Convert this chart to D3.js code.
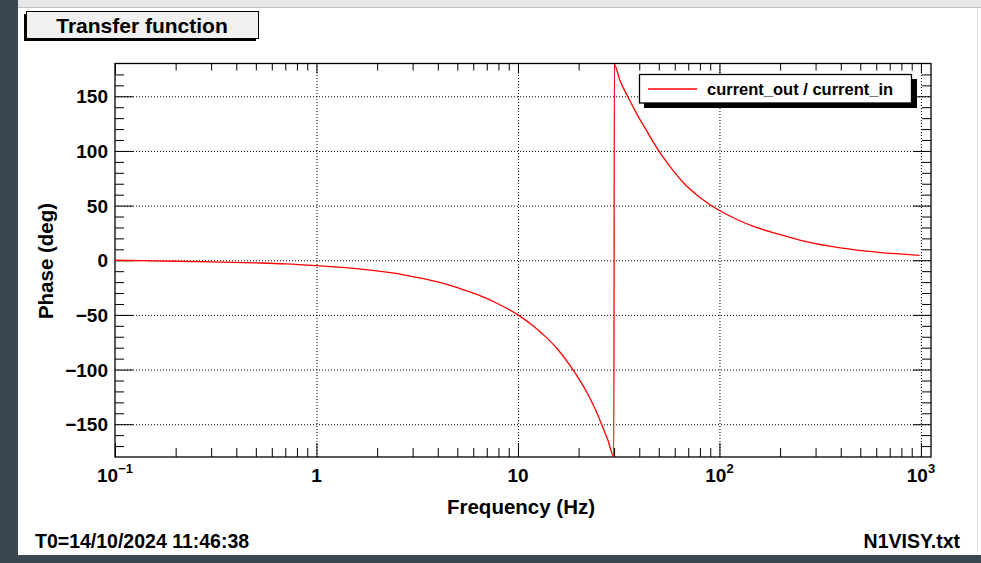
<!DOCTYPE html>
<html>
<head>
<meta charset="utf-8">
<script src="https://cdn.jsdelivr.net/npm/d3@7"></script>
<style>
    body { margin: 0; background: #ffffff; }
    svg { display: block; font-family: "Liberation Sans", Arial, Helvetica, sans-serif; font-weight: bold; }
    .grid line { stroke: #000; stroke-dasharray: 1, 2; }
    .axis path { display: none; }
    .axis line { stroke: #000; }
</style>
</head>
<body>
<script>

// Phase curve (frequency in Hz, phase in degrees)
var frequency = [0.1, 0.2, 0.3, 0.5, 0.7, 1.0, 1.4, 2.0, 2.6, 3.2, 4.0, 5.0, 6.3, 8.0, 10,
                 12, 14, 16, 18, 20, 22, 24, 26, 28, 29.9,
                 30.1, 32, 35, 39, 44, 50, 57, 67, 80, 100, 120, 150, 200, 250, 365, 535, 750, 985];
var phase = [0, -0.9, -1.4, -2.4, -3.3, -4.9, -6.8, -9.8, -12.6, -15.8, -19.8, -25, -31.5, -40, -50,
             -60.5, -71.5, -83, -95.5, -108, -121, -135, -150, -165, -179.5,
             179, 165, 150, 133.5, 117, 100, 85.5, 70, 57.5, 45.5, 38, 30.5, 23.5, 18.5, 12.5, 8.4, 6, 4.5];

// Axis ticks and labels
var xMajorTicks = [0.1, 1, 10, 100, 1000];
var xTickBase = ["10", "1", "10", "10", "10"];
var xTickExp = ["\u22121", "", "", "2", "3"];
var yMajorTicks = [-150, -100, -50, 0, 50, 100, 150];

var seriesName = "current_out / current_in";
var titleText = "Transfer function";
var xLabel = "Frequency (Hz)";
var yLabel = "Phase (deg)";
var footLeft = "T0=14/10/2024 11:46:38";
var footRight = "N1VISY.txt";

window.onload = function() {
    drawChart();
};

function drawChart() {

    var svgWidth = 981;
    var svgHeight = 563;

    // Plot frame
    var left = 115, right = 931, top = 63.5, bottom = 457;

    const svg = d3.select("body").append("svg")
        .attr("width", svgWidth)
        .attr("height", svgHeight);

    // Window decoration around the canvas
    svg.append("rect").attr("x", 0).attr("y", 0).attr("width", svgWidth).attr("height", 8)
        .attr("fill", "#e6e6e6");
    svg.append("line").attr("x1", 18).attr("x2", svgWidth).attr("y1", 7.5).attr("y2", 7.5)
        .attr("stroke", "#c4c4c4");
    svg.append("line").attr("x1", 977.5).attr("x2", 977.5).attr("y1", 8).attr("y2", 555)
        .attr("stroke", "#dddddd");
    svg.append("rect").attr("x", 0).attr("y", 0).attr("width", 18).attr("height", svgHeight)
        .attr("fill", "#3c4651");
    svg.append("rect").attr("x", 0).attr("y", 555).attr("width", svgWidth).attr("height", 8)
        .attr("fill", "#3c4651");

    // Scales
    const xScale = d3.scaleLog()
        .domain([0.1, 1122])
        .range([left, right]);

    const yScale = d3.scaleLinear()
        .domain([-180, 180])
        .range([bottom, top]);

    // Minor ticks
    var xMinorTicks = [];
    xMajorTicks.slice(0, -1).forEach(function(decade) {
        for (var k = 2; k <= 9; k++) {
            xMinorTicks.push(decade * k);
        }
    });
    var yMinorTicks = d3.range(-170, 180, 10).filter(function(v) { return v % 50 != 0; });

    // Dotted grid at the major ticks
    svg.append("g")
        .attr("class", "grid")
        .attr("transform", `translate(0, ${bottom})`)
        .call(d3.axisBottom(xScale)
            .tickValues(xMajorTicks.slice(1))
            .tickSize(-(bottom - top))
            .tickFormat(""))
        .select(".domain").remove();

    svg.append("g")
        .attr("class", "grid")
        .attr("transform", `translate(${left}, 0)`)
        .call(d3.axisLeft(yScale)
            .tickValues(yMajorTicks)
            .tickSize(-(right - left))
            .tickFormat(""))
        .select(".domain").remove();

    // Tick marks on all four sides, pointing inwards
    var addTicks = function(axis, values, size, transform) {
        svg.append("g")
            .attr("class", "axis")
            .attr("transform", transform)
            .call(axis.tickValues(values).tickSize(size).tickFormat(""));
    };
    addTicks(d3.axisBottom(xScale), xMajorTicks, -14, `translate(0, ${bottom})`);
    addTicks(d3.axisBottom(xScale), xMinorTicks, -9, `translate(0, ${bottom})`);
    addTicks(d3.axisTop(xScale), xMajorTicks, -10, `translate(0, ${top})`);
    addTicks(d3.axisTop(xScale), xMinorTicks, -7, `translate(0, ${top})`);
    addTicks(d3.axisLeft(yScale), yMajorTicks, -18, `translate(${left}, 0)`);
    addTicks(d3.axisLeft(yScale), yMinorTicks, -9, `translate(${left}, 0)`);
    addTicks(d3.axisRight(yScale), yMajorTicks, -18, `translate(${right}, 0)`);
    addTicks(d3.axisRight(yScale), yMinorTicks, -9, `translate(${right}, 0)`);

    // Frame
    svg.append("rect")
        .attr("x", left).attr("y", top)
        .attr("width", right - left).attr("height", bottom - top)
        .attr("fill", "none")
        .attr("stroke", "#000")
        .attr("stroke-width", 1.3);

    // Y tick labels
    svg.append("g").selectAll("text")
        .data(yMajorTicks)
        .enter()
        .append("text")
        .attr("x", 108)
        .attr("y", function(d) { return yScale(d) + 7; })
        .attr("text-anchor", "end")
        .attr("font-size", 19)
        .text(function(d) { return d < 0 ? "\u2212" + Math.abs(d) : d; });

    // X tick labels with superscript exponents
    var xLabels = svg.append("g").selectAll("text")
        .data(xMajorTicks)
        .enter()
        .append("text")
        .attr("x", function(d) { return xScale(d); })
        .attr("y", 482)
        .attr("text-anchor", "middle")
        .attr("font-size", 19);
    xLabels.append("tspan")
        .text(function(d, i) { return xTickBase[i]; });
    xLabels.append("tspan")
        .attr("font-size", 13)
        .attr("dy", -9)
        .text(function(d, i) { return xTickExp[i]; });

    // Axis titles
    svg.append("text")
        .attr("x", 521)
        .attr("y", 514)
        .attr("text-anchor", "middle")
        .attr("font-size", 20.5)
        .text(xLabel);

    svg.append("text")
        .attr("transform", "translate(53, 261) rotate(-90)")
        .attr("text-anchor", "middle")
        .attr("font-size", 20.5)
        .text(yLabel);

    // Phase curve
    const line = d3.line()
        .x(function(d, i) { return xScale(frequency[i]); })
        .y(function(d) { return yScale(d); })
        .curve(d3.curveMonotoneX);

    svg.append("path")
        .datum(phase)
        .attr("fill", "none")
        .attr("stroke", "#ff0000")
        .attr("stroke-width", 1.3)
        .attr("d", line);

    // Legend with shadow
    svg.append("rect")
        .attr("x", 644).attr("y", 79).attr("width", 273).attr("height", 29)
        .attr("fill", "#000");
    svg.append("rect")
        .attr("x", 639.5).attr("y", 74.5).attr("width", 272).attr("height", 28.5)
        .attr("fill", "#fff").attr("stroke", "#000").attr("stroke-width", 1.3);
    svg.append("line")
        .attr("x1", 648).attr("x2", 697).attr("y1", 89).attr("y2", 89)
        .attr("stroke", "#ff0000").attr("stroke-width", 1.3);
    svg.append("text")
        .attr("x", 707).attr("y", 95)
        .attr("font-size", 16.5)
        .text(seriesName);

    // Title box with shadow
    svg.append("rect")
        .attr("x", 24).attr("y", 14).attr("width", 232).attr("height", 27)
        .attr("fill", "#000");
    svg.append("rect")
        .attr("x", 26.5).attr("y", 11.5).attr("width", 232).attr("height", 27)
        .attr("fill", "#f0f0f0").attr("stroke", "#000").attr("stroke-width", 1);
    svg.append("text")
        .attr("x", 142).attr("y", 33)
        .attr("text-anchor", "middle")
        .attr("font-size", 21)
        .text(titleText);

    // Footer texts
    svg.append("text")
        .attr("x", 35).attr("y", 548)
        .attr("font-size", 19.5)
        .text(footLeft);
    svg.append("text")
        .attr("x", 960).attr("y", 548)
        .attr("text-anchor", "end")
        .attr("font-size", 19.5)
        .text(footRight);
};

</script>
</body>
</html>
